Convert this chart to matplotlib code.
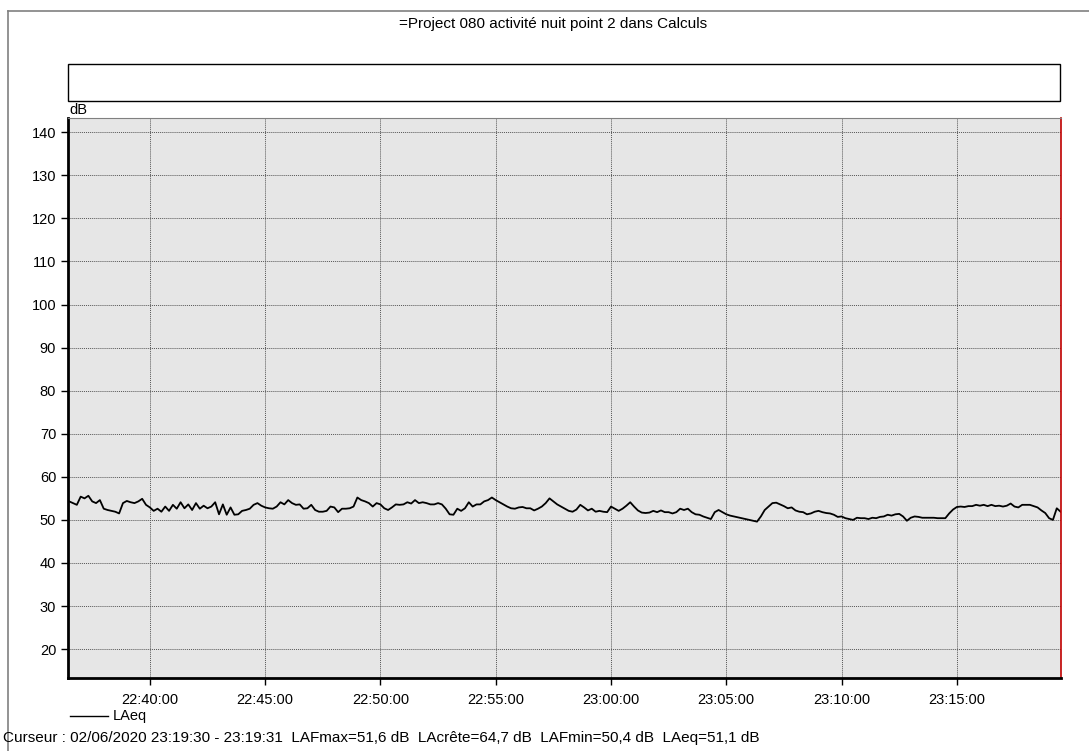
import pandas as pd
import matplotlib
matplotlib.use("Agg")
import matplotlib.pyplot as plt
import matplotlib.dates as mdates
from matplotlib.patches import Rectangle
from matplotlib.lines import Line2D

plt.rcParams['font.family'] = ['Liberation Sans', 'DejaVu Sans']

# Data: LAeq sampled every 10 s from 22:36:30
START = "2020-06-02 22:36:30"
STEP = "10s"
laeq_part1 = [54.3, 53.9, 53.5, 55.4, 55.0, 55.6, 54.3, 53.9, 54.6, 52.6,
              52.3, 52.1, 51.9, 51.5, 53.9, 54.4, 54.1, 53.9, 54.3, 54.9,
              53.5, 52.9, 52.1, 52.6, 51.9, 53.1, 52.1, 53.5, 52.6, 54.1,
              52.7, 53.6, 52.3, 53.9, 52.6, 53.3, 52.7, 53.1, 54.1, 51.3,
              53.6, 51.2, 52.9, 51.2, 51.3, 52.1, 52.3, 52.6, 53.5, 53.9,
              53.3, 52.9, 52.7]
laeq_part2 = [52.6, 53.1, 54.1, 53.6, 54.6, 53.9, 53.5, 53.6, 52.6, 52.7,
              53.5, 52.3, 51.9, 51.9, 52.1, 53.1, 52.9, 51.8, 52.6, 52.6,
              52.7, 53.1, 55.2, 54.6, 54.3, 53.9, 53.1, 53.9, 53.6, 52.7,
              52.3, 52.9, 53.6, 53.5, 53.6, 54.1, 53.8, 54.6, 53.9, 54.1,
              53.9, 53.6, 53.6, 53.9, 53.6, 52.6, 51.3, 51.2, 52.6, 52.1,
              52.7, 54.1]
laeq_part3 = [53.1, 53.6, 53.6, 54.3, 54.6, 55.2, 54.6, 54.1, 53.6, 53.1,
              52.7, 52.6, 52.9, 53.0, 52.7, 52.7, 52.2, 52.6, 53.1, 53.9,
              55.0, 54.3, 53.6, 53.1, 52.6, 52.1, 51.9, 52.4, 53.5, 52.9,
              52.2, 52.6, 51.9, 52.1, 51.9, 51.8, 53.1, 52.6, 52.1, 52.6,
              53.3, 54.1, 53.1, 52.2, 51.7, 51.6, 51.7, 52.1, 51.8, 52.2,
              51.8, 51.8]
laeq_part4 = [51.5, 51.8, 52.6, 52.3, 52.6, 51.8, 51.3, 51.2, 50.8, 50.5,
              50.2, 51.8, 52.3, 51.8, 51.3, 51.0, 50.8, 50.6, 50.4, 50.2,
              50.0, 49.8, 49.6, 50.8, 52.3, 53.1, 53.9, 54.0, 53.6, 53.2,
              52.7, 52.9, 52.2, 51.9, 51.8, 51.3, 51.5, 51.9, 52.1, 51.8,
              51.6, 51.5, 51.2, 50.7, 50.8, 50.4, 50.2, 50.0, 50.5, 50.4,
              50.4, 50.2]
laeq_part5 = [50.5, 50.4, 50.7, 50.8, 51.2, 51.0, 51.3, 51.4, 50.8, 49.8,
              50.5, 50.8, 50.7, 50.5, 50.5, 50.5, 50.5, 50.4, 50.4, 50.4,
              51.5, 52.4, 53.0, 53.1, 53.0, 53.2, 53.2, 53.5, 53.3, 53.5,
              53.2, 53.5, 53.2, 53.3, 53.1, 53.3, 53.8, 53.1, 52.9, 53.5,
              53.5, 53.5, 53.2, 52.9, 52.2, 51.6, 50.4, 50.0, 52.7, 51.9]
laeq = laeq_part1 + laeq_part2 + laeq_part3 + laeq_part4 + laeq_part5
y_ticks = list(range(20, 150, 10))

TITLE = "=Project 080 activité nuit point 2 dans Calculs"
CURSOR = ("Curseur : 02/06/2020 23:19:30 - 23:19:31  LAFmax=51,6 dB  "
          "LAcrête=64,7 dB  LAFmin=50,4 dB  LAeq=51,1 dB")

times = pd.date_range(START, periods=len(laeq), freq=STEP)

W, H = 1089, 751
fig = plt.figure(figsize=(W / 100, H / 100), dpi=100)
fig.patch.set_facecolor("white")

def fx(px):
    return px / W

def fy(py):
    return 1 - py / H

# outer frame (top and left edges)
fig.add_artist(Line2D([fx(8), 1], [fy(11), fy(11)], color="#808080", lw=1.2))
fig.add_artist(Line2D([fx(8), fx(8)], [fy(11), 0], color="#808080", lw=1.2))

fig.text(fx(553), fy(24), TITLE, ha="center", va="center", fontsize=11)

# empty header box
fig.add_artist(Rectangle((fx(68), fy(101)), fx(1060) - fx(68), fy(64) - fy(101),
                         transform=fig.transFigure, fill=False, ec="black", lw=1.0))
fig.text(fx(78), fy(110), "dB", ha="center", va="center", fontsize=10.5)

ax = fig.add_axes([fx(68), fy(678), fx(1061) - fx(68), fy(118) - fy(678)])
ax.set_facecolor("#e6e6e6")
ax.plot(times, laeq, color="black", lw=1.3)

ax.set_xlim(pd.Timestamp("2020-06-02 22:36:27"), pd.Timestamp("2020-06-02 23:19:31"))
ax.set_ylim(13.3, 143.3)
ax.set_yticks(y_ticks)
ax.xaxis.set_major_locator(mdates.MinuteLocator(byminute=range(0, 60, 5)))
ax.xaxis.set_major_formatter(mdates.DateFormatter("%H:%M:%S"))
ax.tick_params(axis="both", direction="out", length=5, width=1, labelsize=10.5, colors="black")
ax.tick_params(axis="x", pad=6)
ax.grid(True, color="#555555", linestyle=(0, (1, 1)), linewidth=0.7)

ax.spines["left"].set_linewidth(2)
ax.spines["bottom"].set_linewidth(2)
ax.spines["right"].set_color("#c00000")
ax.spines["right"].set_linewidth(1.2)
ax.spines["top"].set_color("#808080")
ax.spines["top"].set_linewidth(0.8)

# legend
fig.add_artist(Line2D([fx(70), fx(108)], [fy(716), fy(716)], color="black", lw=1.0))
fig.text(fx(113), fy(716), "LAeq", ha="left", va="center", fontsize=10.5)

fig.text(fx(3), fy(738), CURSOR, ha="left", va="center", fontsize=11)

fig.savefig("out.png", dpi=100)
